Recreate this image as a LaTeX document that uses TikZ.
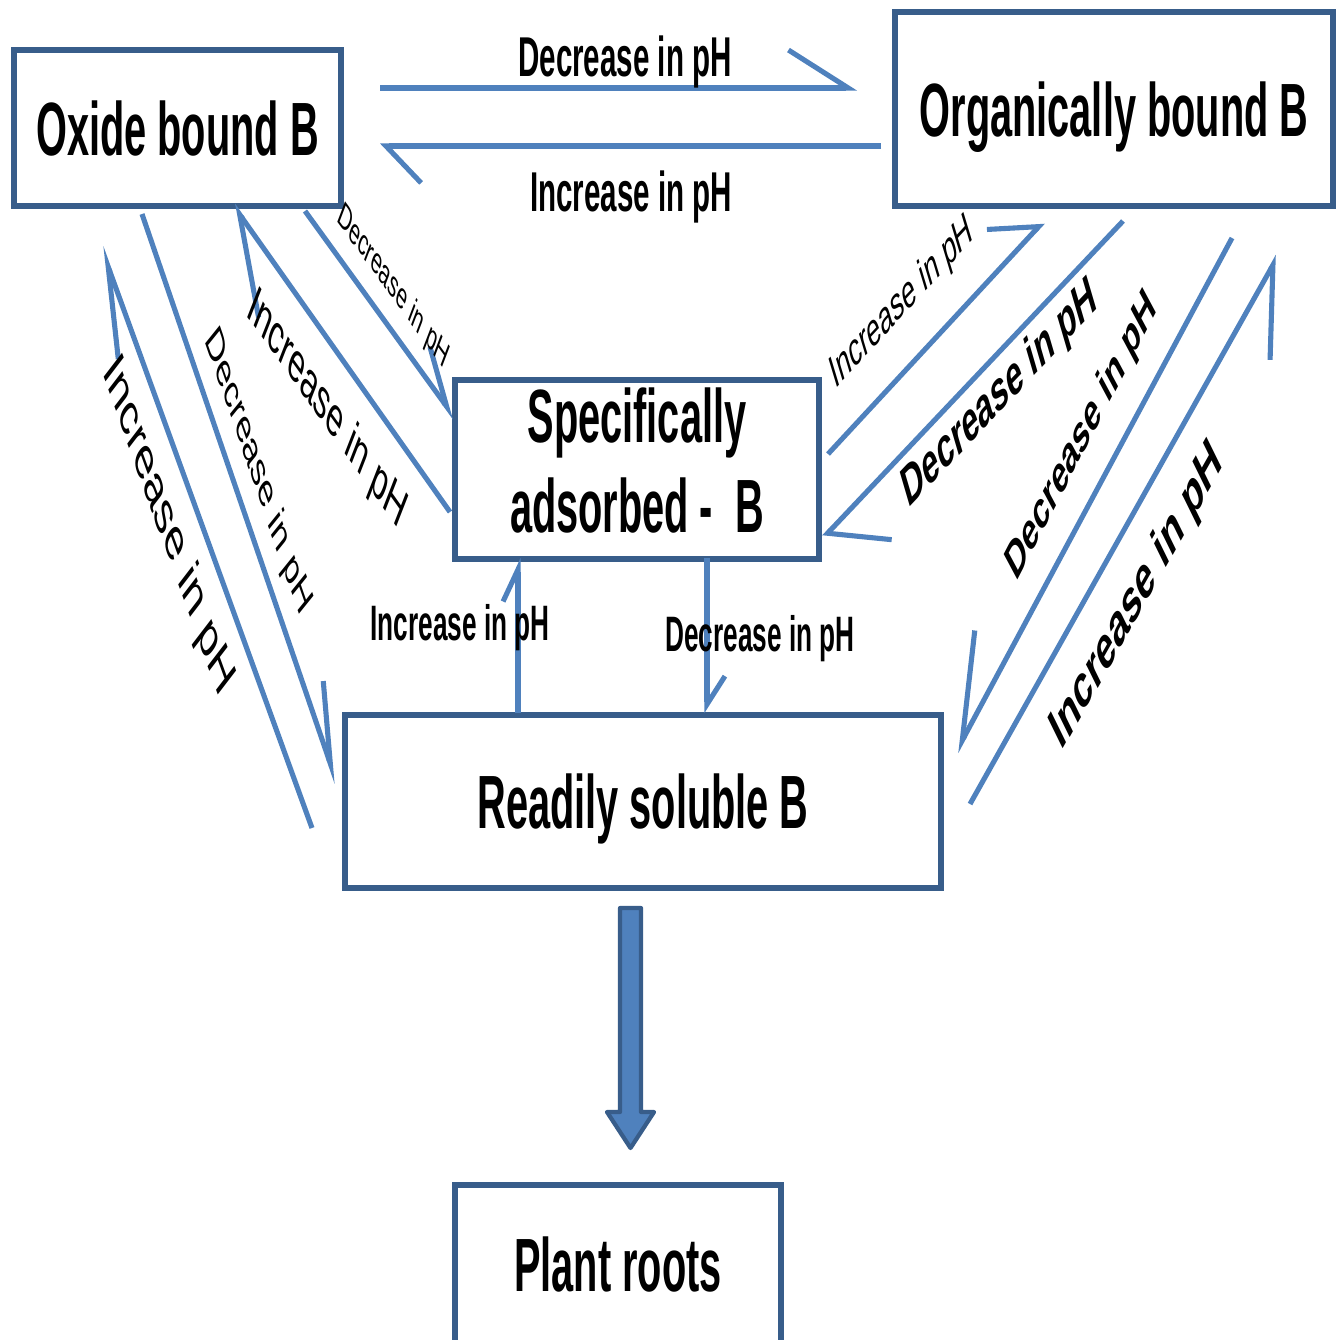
\documentclass[tikz,border=0pt]{standalone}
\usepackage{graphicx}
\usepackage{fontspec}
\setmainfont{Liberation Sans}
\usetikzlibrary{arrows.meta}
\definecolor{flowblue}{RGB}{79,129,189}
\definecolor{edgeblue}{RGB}{56,93,138}
\newcommand{\tall}[1]{\scalebox{1}[1.9]{#1}}

\begin{document}
\begin{tikzpicture}[x=0.01cm,y=-0.01cm,
	box/.style={draw=edgeblue,line width=1.6pt,fill=white,inner sep=0pt,text depth=0pt,font=\fontsize{11.3}{13.4}\selectfont\bfseries},
	flow/.style={draw=flowblue,line width=1.45pt},
	harpl/.style 2 args={flow,-{Straight Barb[left,length=#1,width=#2]}},
	harpr/.style 2 args={flow,-{Straight Barb[right,length=#1,width=#2]}},
	flat/.style={yscale=1.9,inner sep=0pt,anchor=base,font=\fontsize{#1}{#1}\selectfont\bfseries},
	tilt/.style 2 args={yscale=1.9,rotate=#2,inner sep=0pt,font=\fontsize{#1}{#1}\selectfont},
	tiltb/.style 2 args={tilt={#1}{#2},font=\fontsize{#1}{#1}\selectfont\bfseries}]

	\useasboundingbox (0,0) rectangle (1343,1339);

	% Draw the boxes
	\node[box,minimum width=3.27cm,minimum height=1.56cm] (oxide) at (177.5,128) {\tall{Oxide bound B}};
	\node[box,minimum width=4.38cm,minimum height=1.94cm] (organic) at (1114,109) {\tall{Organically bound B}};
	\node[box,text depth=,minimum width=3.64cm,minimum height=1.73cm] (specific) at (637,469.5)
		{\tall{\begin{tabular}{@{}c@{}}Specifically\\adsorbed -\ \ B\end{tabular}}};
	\node[box,minimum width=5.96cm,minimum height=1.73cm] (readily) at (643,801.5) {\tall{Readily soluble B}};
	\node[box,minimum width=3.26cm,minimum height=1.58cm] (plant) at (618,1264) {\tall{Plant roots}};

	% Ends of the arrows
	\coordinate (o2g-s) at (380,88);   \coordinate (o2g-e) at (857,88);
	\coordinate (g2o-s) at (881,146);  \coordinate (g2o-e) at (380,146);
	\coordinate (r2o-s) at (312,828);  \coordinate (r2o-e) at (101,247);
	\coordinate (o2r-s) at (142,214);  \coordinate (o2r-e) at (337,783);
	\coordinate (s2o-s) at (450,512);  \coordinate (s2o-e) at (233,205);
	\coordinate (o2s-s) at (305,211);  \coordinate (o2s-e) at (455,418);
	\coordinate (s2g-s) at (828,454);  \coordinate (s2g-e) at (1043,222);
	\coordinate (g2s-s) at (1123,221); \coordinate (g2s-e) at (824,537);
	\coordinate (g2r-s) at (1232,238); \coordinate (g2r-e) at (956,752);
	\coordinate (r2g-s) at (970,804);  \coordinate (r2g-e) at (1278,256);
	\coordinate (r2s-s) at (518,713);  \coordinate (r2s-e) at (518,558);
	\coordinate (s2r-s) at (707,558);  \coordinate (s2r-e) at (707,713);

	% Oxide <-> organic
	\draw[harpl={17pt}{21.6pt}] (o2g-s) -- (o2g-e);
	\draw[harpl={10pt}{21pt}] (g2o-s) -- (g2o-e);
	\node[flat=8.4] (lab-o2g) at (625,76) {Decrease in pH};
	\node[flat=8.4] (lab-g2o) at (631,211) {Increase in pH};

	% Oxide <-> readily soluble and specifically adsorbed
	\draw[harpl={25.6pt}{12.5pt}] (r2o-s) -- (r2o-e);
	\draw[harpl={22.8pt}{11.4pt}] (o2r-s) -- (o2r-e);
	\draw[harpl={27pt}{25pt}] (s2o-s) -- (s2o-e);
	\draw[harpl={16.5pt}{12.2pt}] (o2s-s) -- (o2s-e);
	\node[tilt={9.2}{-55.5}] (lab-r2o) at (168,527) {Increase in pH};
	\node[tilt={7.2}{-56.8}] (lab-o2r) at (258,472) {Decrease in pH};
	\node[tilt={8.4}{-36.5}] (lab-s2o) at (327,410) {Increase in pH};
	\node[tilt={5.5}{-35.9}] (lab-o2s) at (393,287) {Decrease in pH};

	% Organic <-> specifically adsorbed and readily soluble
	\draw[harpl={10.6pt}{20.5pt}] (s2g-s) -- (s2g-e);
	\draw[harpl={11.2pt}{29pt}] (g2s-s) -- (g2s-e);
	\draw[harpr={29.2pt}{23.3pt}] (g2r-s) -- (g2r-e);
	\draw[harpr={23.9pt}{25pt}] (r2g-s) -- (r2g-e);
	\node[tilt={7.05}{29.8}] (lab-s2g) at (902,303) {Increase in pH};
	\node[tiltb={8.55}{29.1}] (lab-g2s) at (1000,395) {Decrease in pH};
	\node[tiltb={7.9}{45.5}] (lab-g2r) at (1082,437) {Decrease in pH};
	\node[tiltb={9.2}{43.0}] (lab-r2g) at (1137,597) {Increase in pH};

	% Specifically adsorbed <-> readily soluble
	\draw[harpl={9.1pt}{8.5pt}] (r2s-s) -- (r2s-e);
	\draw[harpl={8pt}{10.2pt}] (s2r-s) -- (s2r-e);
	\node[flat=7.45] (lab-r2s) at (460,640) {Increase in pH};
	\node[flat=7.45] (lab-s2r) at (760,651) {Decrease in pH};

	% Block arrow down to the roots
	\draw[edgeblue,fill=flowblue,line width=1.2pt,line join=round]
		(620,908) -- (641,908) -- (641,1112) -- (654,1112) -- (630.5,1148)
		-- (607,1112) -- (620,1112) -- cycle;

\end{tikzpicture}
\end{document}
